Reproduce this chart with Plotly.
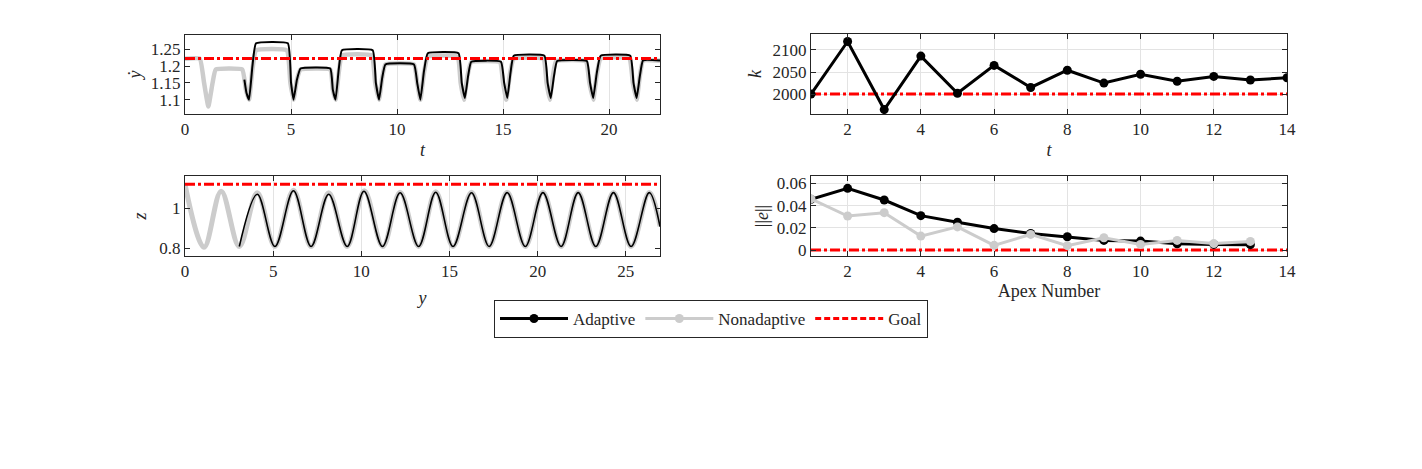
import plotly.graph_objects as go

# ---------------- data ----------------
# top-left: forward velocity vs time
t_non = [0, 0.7, 0.9, 1.1, 1.3, 1.45, 2.7, 2.87, 3.02, 3.18, 3.35, 4.8, 4.97, 5.12, 5.28, 5.45,
         6.85, 6.97, 7.1, 7.25, 7.4, 8.8, 8.97, 9.15, 9.3, 9.45, 10.8, 10.95, 11.1, 11.27, 11.45,
         12.85, 13.0, 13.15, 13.32, 13.5, 14.85, 15.0, 15.15, 15.32, 15.5, 16.9, 17.05, 17.2,
         17.35, 17.5, 18.9, 19.07, 19.25, 19.42, 19.6, 20.95, 21.12, 21.3, 21.45, 21.6, 22.4]
v_non = [1.222, 1.222, 1.15, 1.08, 1.15, 1.19, 1.19, 1.13, 1.10, 1.19, 1.247, 1.247, 1.15, 1.10,
         1.16, 1.19, 1.19, 1.13, 1.10, 1.18, 1.232, 1.232, 1.15, 1.10, 1.165, 1.205, 1.205, 1.15,
         1.10, 1.18, 1.228, 1.228, 1.15, 1.10, 1.17, 1.212, 1.212, 1.15, 1.10, 1.175, 1.222,
         1.222, 1.15, 1.10, 1.17, 1.215, 1.215, 1.15, 1.10, 1.175, 1.223, 1.223, 1.15, 1.10,
         1.17, 1.216, 1.216]
t_ad = [2.8, 2.9, 3.02, 3.18, 3.35, 4.85, 5.0, 5.12, 5.28, 5.45, 6.85, 6.97, 7.1, 7.25, 7.4,
        8.85, 9.0, 9.15, 9.3, 9.45, 10.8, 10.95, 11.1, 11.27, 11.45, 12.9, 13.05, 13.2, 13.35,
        13.5, 14.9, 15.05, 15.2, 15.35, 15.5, 16.95, 17.1, 17.25, 17.4, 17.55, 18.95, 19.1,
        19.25, 19.42, 19.6, 21.0, 21.15, 21.3, 21.45, 21.6, 22.4]
v_ad = [1.16, 1.12, 1.10, 1.2, 1.268, 1.268, 1.15, 1.10, 1.16, 1.193, 1.193, 1.13, 1.10, 1.19,
        1.247, 1.247, 1.15, 1.10, 1.165, 1.205, 1.205, 1.15, 1.10, 1.185, 1.238, 1.238, 1.15,
        1.105, 1.17, 1.213, 1.213, 1.15, 1.105, 1.18, 1.231, 1.231, 1.15, 1.105, 1.17, 1.215,
        1.215, 1.15, 1.105, 1.18, 1.231, 1.231, 1.15, 1.105, 1.17, 1.217, 1.217]
v_goal = 1.223

# bottom-left: height vs horizontal position (extrema)
y_non = [0, 1.08, 2.05, 3.08, 4.1, 5.1, 6.15, 7.15, 8.15, 9.2, 10.17, 11.22, 12.2, 13.25, 14.22,
         15.2, 16.25, 17.25, 18.27, 19.3, 20.3, 21.33, 22.3, 23.3, 24.3, 25.3, 26.33, 26.94]
z_non = [1.117, 0.806, 1.083, 0.81, 1.075, 0.81, 1.088, 0.81, 1.075, 0.81, 1.085, 0.81, 1.078,
         0.81, 1.08, 0.81, 1.078, 0.81, 1.078, 0.81, 1.078, 0.81, 1.077, 0.81, 1.077, 0.81, 1.077,
         0.91]
y_ad = [3.08, 4.1, 5.1, 6.15, 7.15, 8.15, 9.2, 10.15, 11.2, 12.2, 13.25, 14.22, 15.2, 16.25,
        17.25, 18.27, 19.3, 20.3, 21.33, 22.3, 23.3, 24.3, 25.3, 26.33, 26.94]
z_ad = [0.81, 1.068, 0.81, 1.085, 0.81, 1.068, 0.81, 1.083, 0.81, 1.075, 0.81, 1.078, 0.81,
        1.075, 0.81, 1.076, 0.81, 1.076, 0.81, 1.076, 0.81, 1.076, 0.81, 1.076, 0.908]
z_goal = 1.117

# top-right: stiffness k per apex
apex_k = list(range(1, 15))
k_ad = [2000, 2119, 1965, 2086, 2002, 2065, 2015, 2054, 2025, 2045, 2029, 2040, 2032, 2037]
k_goal = 2000

# bottom-right: error norm per apex
apex_e = list(range(1, 14))
e_ad = [0.0456, 0.0555, 0.045, 0.0309, 0.025, 0.0193, 0.0149, 0.0119, 0.0086, 0.008, 0.0056,
        0.0050, 0.0048]
e_non = [0.046, 0.0306, 0.0336, 0.0125, 0.0208, 0.0042, 0.014, 0.0039, 0.011, 0.005, 0.0086,
         0.0058, 0.0077]
e_goal = 0

# axis ranges / ticks
tl_xr, tl_yr = [0, 22.4], [1.0574, 1.2926]
bl_xr, bl_yr = [0, 26.94], [0.763, 1.158]
tr_xr, tr_yr = [1, 14], [1955, 2136]
br_xr, br_yr = [1, 14], [-0.0054, 0.0666]

# ---------------- style ----------------
W, H = 1422, 469
OFF = 8  # page body margin
BLACK = "#000000"
GRAY = "#cccccc"
RED = "#ff0000"
FONT = "Liberation Serif"
DASH = "10px,3px,3px,3px"


def dom_x(a, b):
    return [(a - OFF) / W, (b - OFF) / W]


def dom_y(top, bottom):
    return [1 - (bottom - OFF) / H, 1 - (top - OFF) / H]


fig = go.Figure()

# top-left
fig.add_trace(go.Scatter(x=t_non, y=v_non, mode="lines", line=dict(color=GRAY, width=4.5, shape="spline", smoothing=0.35),
                         xaxis="x", yaxis="y", showlegend=False))
fig.add_trace(go.Scatter(x=t_ad, y=v_ad, mode="lines", line=dict(color=BLACK, width=2, shape="spline", smoothing=0.35),
                         xaxis="x", yaxis="y", showlegend=False))
fig.add_trace(go.Scatter(x=tl_xr, y=[v_goal, v_goal], mode="lines", line=dict(color=RED, width=3, dash=DASH),
                         xaxis="x", yaxis="y", showlegend=False))

# bottom-left
fig.add_trace(go.Scatter(x=y_non, y=z_non, mode="lines", line=dict(color=GRAY, width=5, shape="spline", smoothing=1.0),
                         xaxis="x3", yaxis="y3", showlegend=False))
fig.add_trace(go.Scatter(x=y_ad, y=z_ad, mode="lines", line=dict(color=BLACK, width=1.6, shape="spline", smoothing=1.0),
                         xaxis="x3", yaxis="y3", showlegend=False))
fig.add_trace(go.Scatter(x=bl_xr, y=[z_goal, z_goal], mode="lines", line=dict(color=RED, width=3, dash=DASH),
                         xaxis="x3", yaxis="y3", showlegend=False))

# top-right
fig.add_trace(go.Scatter(x=tr_xr, y=[k_goal, k_goal], mode="lines", line=dict(color=RED, width=3, dash=DASH),
                         xaxis="x2", yaxis="y2", showlegend=False))
fig.add_trace(go.Scatter(x=apex_k, y=k_ad, mode="lines+markers", line=dict(color=BLACK, width=3),
                         marker=dict(color=BLACK, size=9), xaxis="x2", yaxis="y2", showlegend=False))

# bottom-right
fig.add_trace(go.Scatter(x=br_xr, y=[e_goal, e_goal], mode="lines", line=dict(color=RED, width=3, dash=DASH),
                         xaxis="x4", yaxis="y4", showlegend=False))
fig.add_trace(go.Scatter(x=apex_e, y=e_ad, mode="lines+markers", line=dict(color=BLACK, width=3),
                         marker=dict(color=BLACK, size=9), xaxis="x4", yaxis="y4", name="Adaptive"))
fig.add_trace(go.Scatter(x=apex_e, y=e_non, mode="lines+markers", line=dict(color=GRAY, width=3),
                         marker=dict(color=GRAY, size=9), xaxis="x4", yaxis="y4", name="Nonadaptive"))
fig.add_trace(go.Scatter(x=[None], y=[None], mode="lines", line=dict(color=RED, width=3, dash="6px,3px"),
                         xaxis="x4", yaxis="y4", name="Goal"))

common = dict(showline=True, linecolor="#262626", linewidth=1, mirror="ticks", ticks="inside",
              ticklen=5, tickcolor="#262626", zeroline=False, automargin=False,
              tickfont=dict(family=FONT, size=17, color="#262626"),
              title_font=dict(family=FONT, size=18, color="#262626"), gridcolor="#e3e3e3")

fig.update_layout(
    width=W, height=H, autosize=False,
    margin=dict(l=0, r=0, t=0, b=0),
    paper_bgcolor="white", plot_bgcolor="white",
    font=dict(family=FONT, size=17, color="#262626"),
    xaxis=dict(domain=dom_x(185, 660), range=tl_xr, tickvals=[0, 5, 10, 15, 20], showgrid=True,
               title=dict(text="<i>t</i>", standoff=4), anchor="y", **common),
    yaxis=dict(domain=dom_y(35, 114), range=tl_yr, tickvals=[1.1, 1.15, 1.2, 1.25],
               ticktext=["1.1", "1.15", "1.2", "1.25"], showgrid=False,
               title=dict(text="<i>ẏ</i>", standoff=4), anchor="x", **common),
    xaxis2=dict(domain=dom_x(811, 1287), range=tr_xr, tickvals=[2, 4, 6, 8, 10, 12, 14], showgrid=True,
                title=dict(text="<i>t</i>", standoff=4), anchor="y2", **common),
    yaxis2=dict(domain=dom_y(34, 114), range=tr_yr, tickvals=[2000, 2050, 2100], showgrid=True,
                title=dict(text="<i>k</i>", standoff=6), anchor="x2", **common),
    xaxis3=dict(domain=dom_x(185, 660), range=bl_xr, tickvals=[0, 5, 10, 15, 20, 25], showgrid=True,
                title=dict(text="<i>y</i>", standoff=10), anchor="y3", **common),
    yaxis3=dict(domain=dom_y(176, 256), range=bl_yr, tickvals=[0.8, 1], ticktext=["0.8", "1"], showgrid=False,
                title=dict(text="<i>z</i>", standoff=8), anchor="x3", **common),
    xaxis4=dict(domain=dom_x(811, 1287), range=br_xr, tickvals=[2, 4, 6, 8, 10, 12, 14], showgrid=True,
                title=dict(text="Apex Number", standoff=3), anchor="y4", **common),
    yaxis4=dict(domain=dom_y(176, 256), range=br_yr, tickvals=[0, 0.02, 0.04, 0.06],
                ticktext=["0", "0.02", "0.04", "0.06"], showgrid=True,
                title=dict(text="||<i>e</i>||", standoff=3), anchor="x4", **common),
    legend=dict(orientation="h", x=(711 - OFF) / W, xanchor="center", y=1 - (300 - OFF) / H, yanchor="top",
                bordercolor="#262626", borderwidth=1, bgcolor="white",
                font=dict(family=FONT, size=17, color="#262626"), itemwidth=68,
                tracegroupgap=0),
)

fig.write_html("out.html")
